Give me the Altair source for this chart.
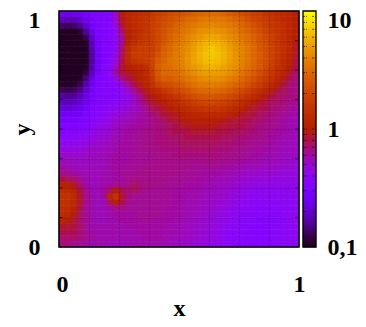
import altair as alt
import numpy as np
import pandas as pd

# colour level of each cell, top row first, 0 = 0.1 ... 100 = 10
rows = [
[20,19,19,20,22,24,25,26,27,36,49,53,55,56,58,60,62,64,66,68,69,70,72,73,74,74,74,73,71,69,67,65,63,61,59,58,56,55,53,50],
[14,13,13,15,19,23,25,26,27,35,48,53,56,57,59,61,64,66,68,70,72,74,75,77,78,78,78,77,75,73,71,68,65,63,61,59,57,55,53,50],
[7,6,7,10,15,21,25,26,27,33,46,52,55,57,59,62,64,67,69,72,74,76,78,79,80,81,80,79,78,76,73,71,68,65,62,60,58,56,53,50],
[1,0,0,3,10,18,24,26,27,31,43,51,54,56,59,62,65,68,71,73,76,78,80,82,83,84,83,82,80,78,75,73,70,67,64,61,59,56,53,50],
[0,0,0,0,5,15,23,26,27,30,40,50,54,57,60,62,65,69,72,75,77,80,82,84,86,87,86,84,82,80,77,75,72,69,66,63,60,57,53,50],
[0,0,0,0,1,13,22,26,27,31,40,51,57,60,61,62,66,70,73,76,79,81,84,87,89,90,89,87,84,81,79,76,73,70,67,63,60,57,53,49],
[0,0,0,0,0,12,21,25,27,31,42,54,60,62,62,62,66,71,74,77,80,82,85,88,90,92,90,88,85,82,80,77,74,70,67,64,60,57,53,48],
[0,0,0,0,0,11,20,25,27,32,44,55,61,62,62,63,68,72,75,78,80,83,86,89,91,92,91,89,86,83,80,77,74,71,67,64,60,56,52,47],
[0,0,0,0,0,11,20,25,28,33,45,54,58,60,61,64,70,73,76,78,80,83,86,88,90,91,90,88,85,83,80,77,74,70,67,63,59,55,51,46],
[0,0,0,0,1,12,21,26,29,36,46,50,52,54,56,63,71,74,75,77,79,82,84,86,88,89,88,86,84,82,79,76,73,70,66,62,58,54,50,45],
[0,0,0,0,4,14,22,26,30,38,46,48,50,52,55,62,70,74,74,75,77,80,82,84,85,85,85,84,82,80,77,74,71,67,64,60,56,52,47,43],
[0,0,0,1,8,17,24,27,28,33,41,45,48,51,54,60,68,72,71,73,75,77,79,81,82,82,82,81,79,77,74,71,68,64,61,57,53,49,45,41],
[1,0,1,5,12,19,25,27,27,29,34,40,45,49,52,57,63,66,67,69,71,74,76,78,78,79,78,77,75,73,71,68,64,61,57,53,50,46,43,41],
[6,5,6,9,15,21,26,27,27,28,30,35,40,45,49,53,56,60,62,65,67,69,72,74,74,75,74,73,71,69,66,63,60,56,53,50,46,44,42,41],
[11,10,10,13,18,23,26,27,27,28,30,32,36,41,46,49,51,54,57,60,62,65,67,69,70,70,69,68,66,64,61,58,55,52,49,46,44,43,42,41],
[14,13,14,16,20,24,26,27,28,29,31,33,35,39,43,47,49,51,53,55,58,60,62,64,65,65,64,63,61,59,56,53,50,48,46,44,43,42,41,40],
[17,16,17,19,22,25,27,28,29,31,33,34,36,38,41,44,46,48,50,52,54,56,58,59,60,60,60,58,56,54,52,49,47,46,45,43,42,41,40,39],
[20,20,20,21,24,26,28,29,31,33,34,36,37,38,40,42,44,46,48,49,50,52,53,54,55,55,55,54,52,50,48,47,46,44,43,42,41,40,39,38],
[23,22,23,24,25,27,29,31,33,35,36,37,38,39,40,41,42,44,46,47,49,50,51,51,51,51,50,49,48,47,46,45,44,43,42,41,40,39,38,37],
[25,25,25,26,27,29,31,33,34,36,37,38,39,39,40,41,42,43,44,45,47,48,49,49,49,49,48,47,46,46,45,44,43,42,41,41,40,39,38,37],
[27,27,27,28,29,31,33,34,35,37,38,39,39,40,41,41,42,43,44,45,45,46,47,47,47,47,46,46,45,44,44,43,42,41,41,40,39,39,38,37],
[29,29,29,30,31,33,34,35,36,38,38,39,40,40,41,41,42,42,43,44,44,45,45,45,45,45,45,44,44,43,42,42,41,41,40,39,39,38,38,37],
[31,31,31,32,33,34,35,36,37,38,39,39,40,40,41,41,42,42,43,43,44,44,44,44,44,44,44,43,43,42,42,41,41,40,40,39,38,38,37,37],
[33,33,33,34,35,36,36,37,38,38,39,39,40,40,41,41,41,42,42,42,43,43,43,43,43,43,42,42,42,41,41,40,40,39,39,38,38,37,37,36],
[35,35,35,35,36,36,37,37,38,39,39,39,40,40,40,41,41,41,41,42,42,42,42,42,42,42,42,41,41,41,40,40,39,39,38,38,37,37,36,36],
[37,37,37,36,36,37,37,37,38,39,39,39,40,40,40,40,41,41,41,41,41,41,41,41,41,41,41,41,40,40,39,39,38,38,37,37,37,36,36,35],
[39,38,37,37,37,37,37,37,38,39,39,40,40,40,41,41,41,41,41,41,41,41,40,40,40,40,40,39,39,38,38,37,37,37,36,36,36,35,35,34],
[41,40,39,38,37,37,37,38,38,39,40,40,40,41,41,41,41,41,41,41,40,40,40,40,39,39,39,38,38,37,37,36,36,35,35,35,34,34,34,33],
[45,44,43,40,38,37,37,38,38,39,39,40,41,41,41,41,41,41,41,40,40,40,40,39,39,38,38,37,37,36,35,35,34,34,33,33,33,33,33,33],
[52,51,48,43,39,37,37,38,39,41,40,41,44,42,41,41,41,41,40,40,40,39,39,39,38,38,37,37,36,35,34,33,33,32,32,32,32,32,32,32],
[56,55,52,46,40,38,37,39,44,51,45,42,44,42,41,40,40,40,40,39,39,39,38,38,37,37,36,36,35,34,33,32,31,31,31,31,31,31,31,32],
[58,58,55,48,41,38,37,39,53,58,48,42,40,40,40,40,40,40,40,39,39,38,38,38,37,36,36,35,34,33,32,31,30,30,30,30,30,30,31,32],
[58,57,54,47,41,38,37,38,44,51,45,41,40,40,40,40,40,40,40,39,39,38,38,37,37,36,35,34,33,32,31,30,30,29,29,29,29,30,30,31],
[57,56,52,46,40,38,37,37,39,41,41,40,40,40,40,40,40,40,39,39,38,38,37,37,36,35,34,33,32,31,30,29,29,28,28,28,29,29,30,31],
[56,54,50,44,40,38,37,37,38,39,39,39,39,40,40,40,40,39,39,39,38,38,37,36,36,35,34,32,31,30,29,29,28,28,28,28,28,29,30,31],
[52,50,47,43,40,38,37,37,38,38,39,39,39,40,40,40,39,39,39,38,38,37,37,36,35,34,33,32,31,30,29,28,28,27,27,27,28,29,30,31],
[48,47,46,44,40,38,38,38,38,38,38,39,39,39,39,39,39,39,38,38,37,37,36,35,35,34,33,31,30,29,28,28,27,27,27,28,28,29,30,31],
[45,45,45,43,40,39,38,38,38,38,38,38,38,39,39,39,39,38,38,38,37,37,36,35,34,33,32,31,30,29,28,27,27,27,27,28,28,29,30,31],
[43,43,43,42,40,39,38,38,38,38,38,38,38,38,39,39,39,38,38,37,37,36,36,35,34,33,32,31,29,28,28,27,27,27,27,28,28,29,30,31],
[42,42,41,40,39,38,38,38,37,37,37,37,38,38,38,38,38,38,37,37,36,36,35,34,33,32,31,30,29,28,27,27,27,27,27,28,28,29,30,31],
]
grid_ticks = [0, 0.125, 0.25, 0.375, 0.5, 0.625, 0.75, 0.875, 1]
cbar_minor = [0.2,0.3,0.4,0.5,0.6,0.7,0.8,0.9,1,2,3,4,5,6,7,8,9]
cbar_labels = [0.1, 1, 10]

FONT = "Liberation Serif"
FS = 24
W, H = 240, 236
BAR_X, BAR_W = 244, 13
N = len(rows)
BOTTOM = 72


def level_to_z(t):
    return 0.1 * 100 ** (t / 100)


recs = []
for i, row in enumerate(rows):
    for j, t in enumerate(row):
        recs.append(dict(x0=j / N, x1=(j + 1) / N, y0=1 - (i + 1) / N, y1=1 - i / N, z=level_to_z(t)))
cells = pd.DataFrame(recs)

stops = np.linspace(0, 1, 33)
pal = []
for s in stops:
    r = np.sqrt(s)
    g = s ** 3
    b = max(0.0, float(np.sin(2 * np.pi * s)))
    pal.append("#%02x%02x%02x" % (round(r * 255), round(g * 255), round(b * 255)))
color_scale = alt.Scale(type="log", domain=[float(level_to_z(s * 100)) for s in stops], range=pal, clamp=True)

LABEL_EXPR = "datum.value==0||datum.value==1?datum.value:''"
heat = alt.Chart(cells).mark_rect(strokeWidth=0.6).encode(
    x=alt.X("x0:Q", scale=alt.Scale(domain=[0, 1], nice=False), axis=alt.Axis(
        title="x", values=grid_ticks, grid=True, gridColor="#000", gridOpacity=0.2, gridDash=[2, 2],
        gridWidth=1, ticks=False, domain=False, labelPadding=25, labelFont=FONT, labelFontSize=FS,
        labelFontWeight="bold", labelColor="#000", labelAngle=0, labelOverlap=False, labelFlush=False,
        labelOffset={"condition": {"test": "datum.value==0", "value": 3}, "value": 0},
        labelExpr=LABEL_EXPR, titleFont=FONT, titleFontSize=FS,
        titleFontWeight="bold", titleColor="#000", titleBaseline="alphabetic", titleY=BOTTOM - 4, zindex=1)),
    x2="x1:Q",
    y=alt.Y("y0:Q", scale=alt.Scale(domain=[0, 1], nice=False), axis=alt.Axis(
        title="y", values=grid_ticks, grid=True, gridColor="#000", gridOpacity=0.2, gridDash=[2, 2],
        gridWidth=1, ticks=False, domain=False, labelPadding=19, labelFont=FONT, labelFontSize=FS,
        labelFontWeight="bold", labelColor="#000", labelOverlap=False, labelFlush=False,
        labelOffset={"condition": {"test": "datum.value==1", "value": 9}, "value": 0},
        labelExpr=LABEL_EXPR, titleFont=FONT, titleFontSize=FS,
        titleFontWeight="bold", titleColor="#000", titleBaseline="alphabetic", titleX=-30, zindex=1)),
    y2="y1:Q",
    color=alt.Color("z:Q", scale=color_scale, legend=None),
    stroke=alt.Stroke("z:Q", scale=color_scale, legend=None),
)

bar_edges = np.logspace(-1, 1, 119)
bar_df = pd.DataFrame({"lo": bar_edges[:-1], "hi": bar_edges[1:], "z": np.sqrt(bar_edges[:-1] * bar_edges[1:])})
cbar_y = alt.Scale(type="log", domain=[0.1, 10], nice=False)

cbar = alt.Chart(bar_df).mark_rect(strokeWidth=0.5).encode(
    x=alt.value(BAR_X), x2=alt.value(BAR_X + BAR_W),
    y=alt.Y("lo:Q", scale=cbar_y, axis=alt.Axis(
        orient="right", title=None, offset=BAR_X + BAR_W - W, values=cbar_labels, ticks=False, domain=False,
        labelPadding=11, labelFont=FONT, labelFontSize=FS, labelFontWeight="bold", labelColor="#000",
        labelAlign="left", labelOverlap=False, grid=False, labelFlush=False,
        labelOffset={"condition": {"test": "datum.value==10", "value": 9}, "value": 0},
        labelExpr="datum.value==0.1?'0,1':datum.value==1?'1':'10'")),
    y2="hi:Q",
    color=alt.Color("z:Q", scale=color_scale, legend=None),
    stroke=alt.Stroke("z:Q", scale=color_scale, legend=None),
)

minor_df = pd.DataFrame({"v": cbar_minor})
minor_y = alt.Y("v:Q", scale=cbar_y, axis=None)
minor_l = alt.Chart(minor_df).mark_rule(color="#000", opacity=0.6, strokeDash=[2, 1]).encode(
    x=alt.value(BAR_X), x2=alt.value(BAR_X + 4), y=minor_y)
minor_r = alt.Chart(minor_df).mark_rule(color="#000", opacity=0.6, strokeDash=[2, 1]).encode(
    x=alt.value(BAR_X + BAR_W - 4), x2=alt.value(BAR_X + BAR_W), y=minor_y)

tick_df = pd.DataFrame({"v": grid_ticks[1:-1]})
tick_y = alt.Y("v:Q", scale=alt.Scale(domain=[0, 1], nice=False), axis=None)
tick_l = alt.Chart(tick_df).mark_rule(color="#000", opacity=0.55).encode(
    x=alt.value(0), x2=alt.value(4), y=tick_y)
tick_r = alt.Chart(tick_df).mark_rule(color="#000", opacity=0.55).encode(
    x=alt.value(W - 4), x2=alt.value(W), y=tick_y)

frame = alt.Chart(pd.DataFrame({"a": [0]})).mark_rect(fillOpacity=0, stroke="#000", strokeWidth=1.5).encode(
    x=alt.value(0), x2=alt.value(W), y=alt.value(0), y2=alt.value(H))
bar_frame = alt.Chart(pd.DataFrame({"a": [0]})).mark_rect(fillOpacity=0, stroke="#000", strokeWidth=1.3).encode(
    x=alt.value(BAR_X), x2=alt.value(BAR_X + BAR_W), y=alt.value(0), y2=alt.value(H))

chart = alt.layer(heat, cbar, minor_l, minor_r, tick_l, tick_r, frame, bar_frame).resolve_scale(
    y="independent", x="shared"
).properties(
    width=W, height=H,
    autosize=alt.AutoSizeParams(type="none"),
    padding={"left": 51, "top": 3, "right": 59, "bottom": BOTTOM},
    background="#ffffff",
).configure_view(stroke=None)

chart.save("out.html", embed_options={"renderer": "svg", "actions": False})
